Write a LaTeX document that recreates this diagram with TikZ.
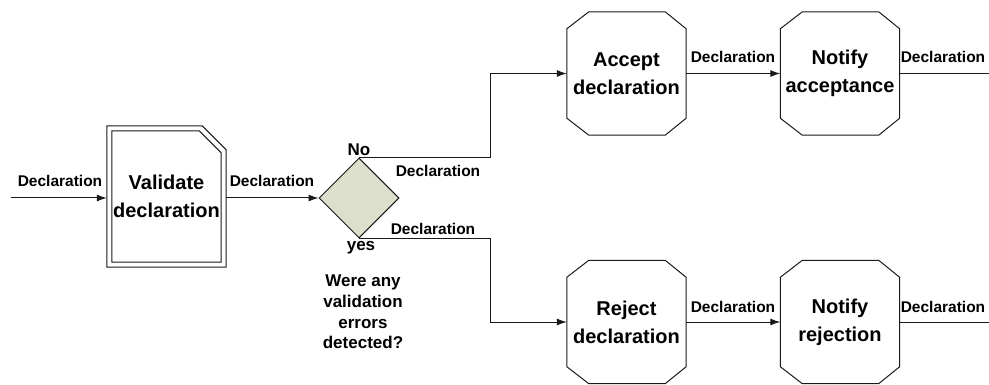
\documentclass[tikz,border=0pt]{standalone}
\usepackage{fontspec}
\setmainfont{Liberation Sans}
\usetikzlibrary{arrows.meta,shapes.geometric,calc}
\definecolor{dfill}{RGB}{220,223,204}
\definecolor{ln}{RGB}{25,25,25}
\begin{document}
\begin{tikzpicture}[x=1pt,y=-1pt,
  line/.style={draw=ln, line width=1pt},
  arr/.style={line, -{Latex[length=10pt,width=7pt]}},
  lbl/.style={font=\fontsize{15.5}{18}\selectfont\bfseries, inner sep=0pt},
  yn/.style={font=\fontsize{17}{20}\selectfont\bfseries, inner sep=0pt},
  proc/.style={draw=none, minimum width=119pt, minimum height=123pt, inner sep=0pt, align=center, font=\fontsize{20}{28}\selectfont\bfseries},
]
\useasboundingbox (0,0) rectangle (989,385);

% nodes
\node[proc, minimum height=141pt] (val) at (166.5,196.5) {Validate\\declaration};
\node[diamond, draw=ln, line width=1pt, fill=dfill, minimum width=80pt, minimum height=80pt, inner sep=0pt, aspect=1] (dec) at (359,198) {};
\node[proc] (acc) at (626.5,73.5) {Accept\\declaration};
\node[proc] (nacc) at (840,73.5) {Notify\\acceptance};
\node[proc] (rej) at (626.5,322) {Reject\\declaration};
\node[proc] (nrej) at (840,322) {Notify\\rejection};

% validate box (double outline with cut corner)
\draw[line] (val.north west) -- ($(val.north east)+(-24,0)$) -- ($(val.north east)+(0,24)$) -- (val.south east) -- (val.south west) -- cycle;
\draw[line] ($(val.north west)+(5,5)$) -- ($(val.north east)+(-27,5)$) -- ($(val.north east)+(-5,27)$) -- ($(val.south east)+(-5,-5)$) -- ($(val.south west)+(5,-5)$) -- cycle;

% octagons
\foreach \n in {acc,nacc,rej,nrej}{
  \draw[line] ($(\n.north west)+(22,0)$) -- ($(\n.north east)+(-21,0)$) -- ($(\n.north east)+(0,17)$) -- ($(\n.south east)+(0,-17)$) -- ($(\n.south east)+(-21,0)$) -- ($(\n.south west)+(22,0)$) -- ($(\n.south west)+(0,-17)$) -- ($(\n.north west)+(0,17)$) -- cycle;
}

% free ends
\coordinate (in) at (11,198);
\coordinate (out1) at (989,73.5);
\coordinate (out2) at (989,322);

% connectors
\draw[arr] (in) -- (in -| val.west);
\draw[arr] (val.east |- dec.west) -- (dec.west);
\draw[arr] (dec.north) -- ++(131,0) |- (acc.west);
\draw[arr] (dec.south) -- ++(131,0) |- (rej.west);
\draw[arr] (acc.east) -- (nacc.west);
\draw[arr] (rej.east) -- (nrej.west);
\draw[line] (nacc.east) -- (out1);
\draw[line] (nrej.east) -- (out2);

% labels
\node[lbl] (l1) at (60,181) {Declaration};
\node[lbl] (l2) at (272,181) {Declaration};
\node[lbl] (l3) at (438,171) {Declaration};
\node[lbl] (l4) at (433,229) {Declaration};
\node[lbl] (l5) at (733,57) {Declaration};
\node[lbl] (l6) at (943,57) {Declaration};
\node[lbl] (l7) at (733,307) {Declaration};
\node[lbl] (l8) at (943,307) {Declaration};

\node[yn] (no) at (359,149.5) {No};
\node[yn, anchor=base] (yes) at (361,251) {yes};
\node[anchor=north, align=center, inner sep=0pt, font=\fontsize{17}{20.7}\selectfont\bfseries] (q) at (363,275) {Were any\\validation\\errors\\detected?};
\end{tikzpicture}
\end{document}
